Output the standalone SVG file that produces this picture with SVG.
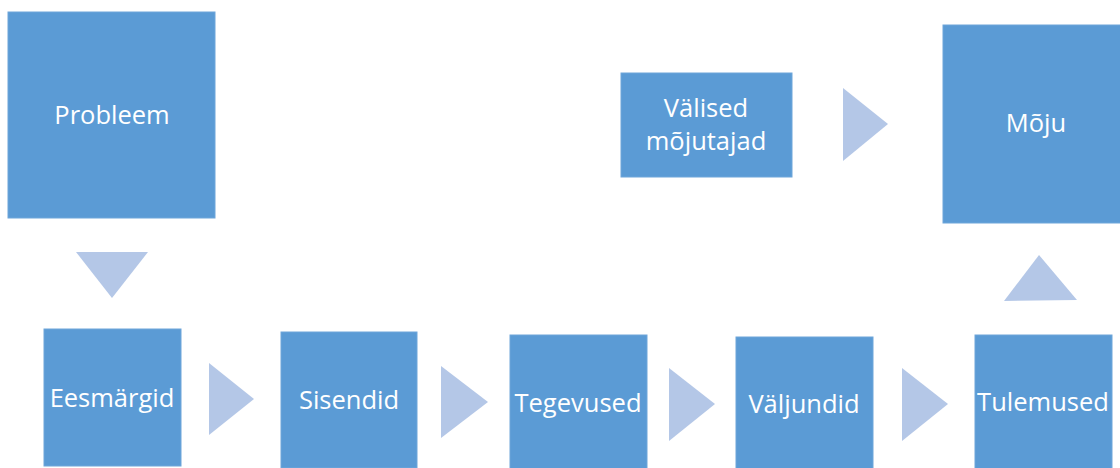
<svg xmlns="http://www.w3.org/2000/svg" width="1120" height="468" viewBox="0 0 1120 468">
<style>
.box{fill:#5B9BD5;stroke:#6FA6DA;stroke-width:1}
.arr{fill:#B4C7E7}
.t{font-family:"Open Sans","Noto Sans","Liberation Sans",sans-serif;font-size:25.5px;fill:#FFFFFF;text-anchor:middle}
</style>
<rect width="1120" height="468" fill="#FFFFFF"/>
<g id="connectors">
<polygon class="arr" points="76,252 148,252 112,298"/>
<polygon class="arr" points="209,363 254,399 209,435"/>
<polygon class="arr" points="441,366 488,402 441,438"/>
<polygon class="arr" points="669,368 715,404 669,441"/>
<polygon class="arr" points="902,368 948,404 902,441"/>
<polygon class="arr" points="843,88 888,124 843,161"/>
<polygon class="arr" points="1004,301 1077,300 1039,255"/>
</g>
<g id="probleem"><rect class="box" x="8" y="12" width="207" height="206"/><text class="t" x="112" y="124">Probleem</text></g>
<g id="eesmargid"><rect class="box" x="44" y="329" width="137" height="137"/><text class="t" x="112" y="407">Eesmärgid</text></g>
<g id="sisendid"><rect class="box" x="281" y="332" width="136" height="136"/><text class="t" x="349" y="409">Sisendid</text></g>
<g id="tegevused"><rect class="box" x="510" y="335" width="137" height="134"/><text class="t" x="578" y="412">Tegevused</text></g>
<g id="valjundid"><rect class="box" x="736" y="337" width="137" height="132"/><text class="t" x="804" y="413">Väljundid</text></g>
<g id="tulemused"><rect class="box" x="975" y="335" width="137" height="134"/><text class="t" x="1043" y="411">Tulemused</text></g>
<g id="valised"><rect class="box" x="621" y="73" width="171" height="104"/><text class="t" x="706" y="117">Välised</text><text class="t" x="706" y="150">mõjutajad</text></g>
<g id="moju"><rect class="box" x="943" y="25" width="178" height="198"/><text class="t" x="1036" y="132">Mõju</text></g>
</svg>
